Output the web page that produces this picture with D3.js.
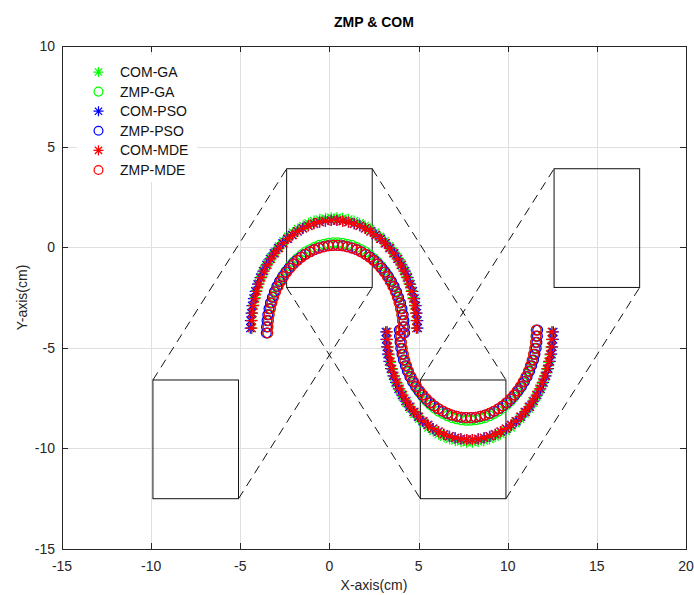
<!DOCTYPE html>
<html><head><meta charset="utf-8">
<script src="https://cdn.jsdelivr.net/npm/d3@7"></script>
<style>
body{margin:0;background:#fff;}
svg{display:block;}
text{font-family:Arial,"Liberation Sans",Helvetica,sans-serif;}
</style>
</head><body>
<svg id="chart" width="694" height="595"></svg>
<script>
// ---------- data ----------
const xTicks = [-15,-10,-5,0,5,10,15,20];
const yTicks = [-15,-10,-5,0,5,10];

// footprints (rectangles)
const footXmin = [-9.9,-2.4,5.1,12.6];
const footXmax = [-5.1,2.4,9.9,17.4];
const footYmin = [-12.5,-2.0,-12.5,-2.0];
const footYmax = [-6.6,3.9,-6.6,3.9];

const seriesNames  = ["COM-GA","ZMP-GA","COM-PSO","ZMP-PSO","COM-MDE","ZMP-MDE"];
const seriesColors = ["#00ff00","#00ff00","#0000ff","#0000ff","#ff0000","#ff0000"];
const seriesMarker = ["star","circle","star","circle","star","circle"];

// COM trajectories
const comX_MDE = [-4.36,-4.35,-4.32,-4.26,-4.18,-4.08,-3.96,-3.82,-3.66,-3.48,-3.28,-3.06,-2.83,-2.58,-2.32,-2.05,-1.77,-1.47,-1.17,-0.86,-0.54,-0.22,0.10,0.42,0.74,1.06,1.38,1.69,1.99,2.29,2.57,2.84,3.10,3.35,3.58,3.80,4.00,4.18,4.34,4.48,4.60,4.70,4.78,4.84,4.87,4.88,
 3.24,3.25,3.28,3.34,3.42,3.52,3.64,3.78,3.94,4.12,4.32,4.54,4.77,5.02,5.28,5.55,5.83,6.13,6.43,6.74,7.06,7.38,7.70,8.02,8.34,8.66,8.98,9.29,9.59,9.89,10.17,10.44,10.70,10.95,11.18,11.40,11.60,11.78,11.94,12.08,12.20,12.30,12.38,12.44,12.47,12.48];
const comX_GA = comX_MDE;
const comX_PSO = [-4.44,-4.43,-4.39,-4.34,-4.26,-4.16,-4.03,-3.89,-3.73,-3.54,-3.34,-3.12,-2.88,-2.63,-2.37,-2.09,-1.80,-1.50,-1.19,-0.88,-0.56,-0.23,0.10,0.42,0.75,1.08,1.40,1.71,2.02,2.32,2.61,2.89,3.15,3.40,3.64,3.86,4.06,4.25,4.41,4.55,4.68,4.78,4.86,4.91,4.95,4.96,
 3.16,3.17,3.21,3.26,3.34,3.44,3.57,3.71,3.87,4.06,4.26,4.48,4.72,4.97,5.23,5.51,5.80,6.10,6.41,6.72,7.04,7.37,7.70,8.02,8.35,8.68,9.00,9.31,9.62,9.92,10.21,10.49,10.75,11.00,11.24,11.46,11.66,11.85,12.01,12.15,12.28,12.38,12.46,12.51,12.55,12.56];
const comY_MDE = [-4.02,-3.65,-3.28,-2.91,-2.55,-2.19,-1.84,-1.51,-1.19,-0.88,-0.58,-0.30,-0.04,0.20,0.42,0.61,0.79,0.94,1.07,1.17,1.25,1.30,1.33,1.33,1.30,1.25,1.17,1.07,0.94,0.79,0.61,0.42,0.20,-0.04,-0.30,-0.58,-0.88,-1.19,-1.51,-1.84,-2.19,-2.55,-2.91,-3.28,-3.65,-4.02,
 -4.21,-4.58,-4.95,-5.32,-5.68,-6.04,-6.39,-6.72,-7.04,-7.35,-7.65,-7.93,-8.19,-8.43,-8.65,-8.84,-9.02,-9.17,-9.30,-9.40,-9.48,-9.53,-9.56,-9.56,-9.53,-9.48,-9.40,-9.30,-9.17,-9.02,-8.84,-8.65,-8.43,-8.19,-7.93,-7.65,-7.35,-7.04,-6.72,-6.39,-6.04,-5.68,-5.32,-4.95,-4.58,-4.21];
const comY_PSO = comY_MDE;
const comY_GA = [-4.02,-3.64,-3.26,-2.88,-2.51,-2.15,-1.79,-1.45,-1.12,-0.80,-0.50,-0.21,0.05,0.30,0.52,0.73,0.91,1.06,1.19,1.30,1.38,1.43,1.46,1.46,1.43,1.38,1.30,1.19,1.06,0.91,0.73,0.52,0.30,0.05,-0.21,-0.50,-0.80,-1.12,-1.45,-1.79,-2.15,-2.51,-2.88,-3.26,-3.64,-4.02,
 -4.21,-4.59,-4.97,-5.35,-5.72,-6.08,-6.44,-6.78,-7.11,-7.43,-7.73,-8.02,-8.28,-8.53,-8.75,-8.96,-9.14,-9.29,-9.42,-9.53,-9.61,-9.66,-9.69,-9.69,-9.66,-9.61,-9.53,-9.42,-9.29,-9.14,-8.96,-8.75,-8.53,-8.28,-8.02,-7.73,-7.43,-7.11,-6.78,-6.44,-6.08,-5.72,-5.35,-4.97,-4.59,-4.21];

// ZMP trajectories
const zmpX_MDE = [-3.46,-3.45,-3.42,-3.38,-3.31,-3.23,-3.13,-3.02,-2.88,-2.73,-2.57,-2.39,-2.20,-2.00,-1.78,-1.56,-1.33,-1.08,-0.83,-0.58,-0.32,-0.06,0.21,0.47,0.74,1.00,1.26,1.51,1.76,2.01,2.24,2.46,2.68,2.88,3.07,3.25,3.41,3.56,3.70,3.81,3.91,3.99,4.06,4.10,4.13,4.14,
 4.00,4.01,4.04,4.08,4.15,4.23,4.33,4.44,4.58,4.73,4.89,5.07,5.26,5.46,5.68,5.90,6.13,6.38,6.63,6.88,7.14,7.40,7.67,7.93,8.20,8.46,8.72,8.97,9.22,9.47,9.70,9.92,10.14,10.34,10.53,10.71,10.87,11.02,11.16,11.27,11.37,11.45,11.52,11.56,11.59,11.60];
const zmpX_GA = zmpX_MDE;
const zmpX_PSO = [-3.54,-3.53,-3.50,-3.46,-3.39,-3.31,-3.20,-3.09,-2.95,-2.80,-2.63,-2.45,-2.26,-2.05,-1.83,-1.60,-1.36,-1.11,-0.86,-0.60,-0.33,-0.07,0.20,0.48,0.75,1.01,1.28,1.54,1.79,2.04,2.28,2.51,2.73,2.94,3.13,3.31,3.48,3.63,3.77,3.88,3.99,4.07,4.14,4.18,4.21,4.22,
 3.92,3.93,3.96,4.00,4.07,4.15,4.26,4.37,4.51,4.66,4.83,5.01,5.20,5.41,5.63,5.86,6.10,6.35,6.60,6.86,7.13,7.39,7.66,7.94,8.21,8.47,8.74,9.00,9.25,9.50,9.74,9.97,10.19,10.40,10.59,10.77,10.94,11.09,11.23,11.34,11.45,11.53,11.60,11.64,11.67,11.68];
const zmpY_MDE = [-4.26,-3.96,-3.65,-3.36,-3.06,-2.77,-2.49,-2.22,-1.95,-1.70,-1.46,-1.24,-1.03,-0.83,-0.65,-0.49,-0.35,-0.23,-0.12,-0.04,0.02,0.07,0.09,0.09,0.07,0.02,-0.04,-0.12,-0.23,-0.35,-0.49,-0.65,-0.83,-1.03,-1.24,-1.46,-1.70,-1.95,-2.22,-2.49,-2.77,-3.06,-3.36,-3.65,-3.96,-4.26,
 -4.12,-4.42,-4.73,-5.02,-5.32,-5.61,-5.89,-6.16,-6.43,-6.68,-6.92,-7.14,-7.35,-7.55,-7.73,-7.89,-8.03,-8.15,-8.26,-8.34,-8.40,-8.45,-8.47,-8.47,-8.45,-8.40,-8.34,-8.26,-8.15,-8.03,-7.89,-7.73,-7.55,-7.35,-7.14,-6.92,-6.68,-6.43,-6.16,-5.89,-5.61,-5.32,-5.02,-4.73,-4.42,-4.12];
const zmpY_PSO = zmpY_MDE;
const zmpY_GA = [-4.26,-3.95,-3.64,-3.33,-3.03,-2.73,-2.44,-2.16,-1.89,-1.63,-1.38,-1.15,-0.93,-0.73,-0.55,-0.38,-0.23,-0.11,0.00,0.09,0.15,0.20,0.22,0.22,0.20,0.15,0.09,0.00,-0.11,-0.23,-0.38,-0.55,-0.73,-0.93,-1.15,-1.38,-1.63,-1.89,-2.16,-2.44,-2.73,-3.03,-3.33,-3.64,-3.95,-4.26,
 -4.12,-4.43,-4.74,-5.05,-5.35,-5.65,-5.94,-6.22,-6.49,-6.75,-7.00,-7.23,-7.45,-7.65,-7.83,-8.00,-8.15,-8.27,-8.38,-8.47,-8.53,-8.58,-8.60,-8.60,-8.58,-8.53,-8.47,-8.38,-8.27,-8.15,-8.00,-7.83,-7.65,-7.45,-7.23,-7.00,-6.75,-6.49,-6.22,-5.94,-5.65,-5.35,-5.05,-4.74,-4.43,-4.12];

const seriesX = [comX_GA, zmpX_GA, comX_PSO, zmpX_PSO, comX_MDE, zmpX_MDE];
const seriesY = [comY_GA, zmpY_GA, comY_PSO, zmpY_PSO, comY_MDE, zmpY_MDE];

// ---------- drawing ----------
const svg = d3.select("#chart");
const L = 62, R = 686, T = 46, B = 549;
const x = d3.scaleLinear().domain([-15,20]).range([L,R]);
const y = d3.scaleLinear().domain([-15,10]).range([B,T]);
const px = v => Math.round(x(v)) + 0.5;
const py = v => Math.round(y(v)) + 0.5;
const axCol = "#262626";

svg.append("rect").attr("width",694).attr("height",595).attr("fill","#fff");
svg.append("rect").attr("x",L).attr("y",T).attr("width",R-L).attr("height",B-T).attr("fill","#fff");

// grid
const grid = svg.append("g").attr("stroke","#dfdfdf").attr("stroke-width",1);
grid.selectAll(".gx").data(xTicks).enter().append("line")
  .attr("x1",d=>px(d)).attr("x2",d=>px(d)).attr("y1",T).attr("y2",B);
grid.selectAll(".gy").data(yTicks).enter().append("line")
  .attr("y1",d=>py(d)).attr("y2",d=>py(d)).attr("x1",L).attr("x2",R);

// footprints
const feet = footXmin.map((v,i)=>({x0:v,x1:footXmax[i],y0:footYmin[i],y1:footYmax[i]}));
const gFeet = svg.append("g");
gFeet.selectAll("rect").data(feet).enter().append("rect")
  .attr("x",d=>x(d.x0)).attr("y",d=>y(d.y1))
  .attr("width",d=>x(d.x1)-x(d.x0)).attr("height",d=>y(d.y0)-y(d.y1))
  .attr("fill","none").attr("stroke","#111").attr("stroke-width",1);
const links = [];
for (let i=0;i<feet.length-1;i++){
  const a = feet[i], b = feet[i+1];
  if (b.y1 > a.y1){
    links.push([a.x0,a.y1,b.x0,b.y1]);
    links.push([a.x1,a.y0,b.x1,b.y0]);
  } else {
    links.push([a.x1,a.y1,b.x1,b.y1]);
    links.push([a.x0,a.y0,b.x0,b.y0]);
  }
}
gFeet.selectAll("line").data(links).enter().append("line")
  .attr("x1",d=>x(d[0])).attr("y1",d=>y(d[1])).attr("x2",d=>x(d[2])).attr("y2",d=>y(d[3]))
  .attr("stroke","#111").attr("stroke-width",1).attr("stroke-dasharray","9,6");

// markers
function starPath(S){ const D = S*0.72;
  return `M${-S},0L${S},0M0,${-S}L0,${S}M${-D},${-D}L${D},${D}M${-D},${D}L${D},${-D}`; }
function drawMarker(g, type, color, scale){
  if (type==="star") g.append("path").attr("d",starPath(5.6*scale)).attr("stroke",color).attr("stroke-width",1.25).attr("fill","none");
  else g.append("circle").attr("r",4.9*scale).attr("stroke",color).attr("stroke-width",1.25).attr("fill","none");
}
seriesNames.forEach((name,i)=>{
  const pts = seriesX[i].map((v,j)=>[v, seriesY[i][j]]);
  const g = svg.append("g").attr("class","series");
  pts.forEach(p=>{
    const m = g.append("g").attr("transform",`translate(${x(p[0])},${y(p[1])})`);
    drawMarker(m, seriesMarker[i], seriesColors[i], 1);
  });
});

// axes box + ticks
const ax = svg.append("g").attr("stroke",axCol).attr("stroke-width",1).attr("fill","none");
ax.append("rect").attr("x",L+0.5).attr("y",T+0.5).attr("width",R-L).attr("height",B-T);
const TL = 6;
xTicks.forEach(t=>{
  ax.append("line").attr("x1",px(t)).attr("x2",px(t)).attr("y1",B).attr("y2",B-TL);
  ax.append("line").attr("x1",px(t)).attr("x2",px(t)).attr("y1",T).attr("y2",T+TL);
});
yTicks.forEach(t=>{
  ax.append("line").attr("y1",py(t)).attr("y2",py(t)).attr("x1",L).attr("x2",L+TL);
  ax.append("line").attr("y1",py(t)).attr("y2",py(t)).attr("x1",R).attr("x2",R-TL);
});

// tick labels
svg.append("g").selectAll("text").data(xTicks).enter().append("text")
  .attr("x",d=>x(d)).attr("y",B+22).attr("text-anchor","middle")
  .attr("font-size",14).attr("fill",axCol).text(d=>String(d));
svg.append("g").selectAll("text").data(yTicks).enter().append("text")
  .attr("x",L-7).attr("y",d=>y(d)).attr("dy","0.36em").attr("text-anchor","end")
  .attr("font-size",14).attr("fill",axCol).text(d=>String(d));

// axis labels and title
svg.append("text").attr("x",(L+R)/2).attr("y",590).attr("text-anchor","middle")
  .attr("font-size",14).attr("fill",axCol).text("X-axis(cm)");
svg.append("text").attr("transform",`translate(27,${(T+B)/2}) rotate(-90)`).attr("text-anchor","middle")
  .attr("font-size",14).attr("fill",axCol).text("Y-axis(cm)");
svg.append("text").attr("x",(L+R)/2).attr("y",27).attr("text-anchor","middle")
  .attr("font-size",14).attr("font-weight","bold").attr("fill","#000").text("ZMP & COM");

// legend
const lg = svg.append("g");
lg.append("rect").attr("x",77).attr("y",55).attr("width",120).attr("height",127).attr("fill","#fff");
seriesNames.forEach((name,i)=>{
  const cy = 72 + i*19.6;
  const m = lg.append("g").attr("transform",`translate(98.5,${cy})`);
  drawMarker(m, seriesMarker[i], seriesColors[i], 0.9);
  lg.append("text").attr("x",120).attr("y",cy).attr("dy","0.36em")
    .attr("font-size",14).attr("fill","#111").text(name);
});
</script>
</body></html>
